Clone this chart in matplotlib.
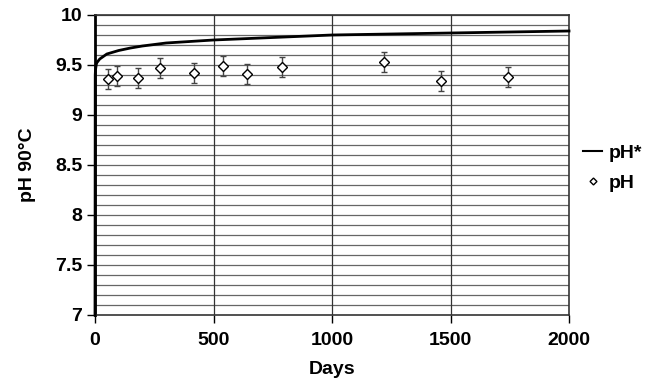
import numpy as np
import matplotlib.pyplot as plt

plt.rcParams['font.family'] = ['Liberation Sans', 'DejaVu Sans']
plt.rcParams['font.weight'] = 'bold'

# model curve pH*
curve_days = [0, 1, 2, 5, 7, 10, 20, 50, 100, 150, 200, 300, 500, 1000, 1500, 2000]
curve_ph = [7.0, 9.40, 9.45, 9.50, 9.52, 9.53, 9.56, 9.61, 9.645, 9.67, 9.69, 9.72, 9.75, 9.80, 9.82, 9.84]

# measured pH
days = [56, 92, 183, 275, 416, 540, 642, 788, 1221, 1458, 1743]
ph = [9.36, 9.39, 9.37, 9.47, 9.42, 9.49, 9.41, 9.48, 9.53, 9.34, 9.38]
ph_err = [0.1] * len(days)

fig = plt.figure(figsize=(6.47, 3.84), dpi=100)
ax = fig.add_axes([95 / 647, 1 - 315 / 384, 474 / 647, 300 / 384])

ax.set_xlim(0, 2000)
ax.set_ylim(7, 10)

for y in np.arange(7.1, 10.0, 0.1):
    ax.axhline(y, color='#666666', lw=0.9, zorder=1)
for x in [500, 1000, 1500]:
    ax.axvline(x, color='#333333', lw=0.9, zorder=1)

line, = ax.plot(curve_days, curve_ph, color='black', lw=2, zorder=3, label='pH*', clip_on=False)
eb = ax.errorbar(days, ph, yerr=ph_err, fmt='D', ms=5, mfc='white', mec='black',
                 mew=1, ecolor='#444444', elinewidth=1, capsize=2.5, zorder=4, label='pH')

ax.set_xticks([0, 500, 1000, 1500, 2000])
ax.set_yticks([7, 7.5, 8, 8.5, 9, 9.5, 10])
ax.set_yticklabels(['7', '7.5', '8', '8.5', '9', '9.5', '10'])
ax.tick_params(axis='both', labelsize=14, length=6, width=1, direction='out')
ax.tick_params(axis='x', pad=6)
ax.tick_params(axis='y', pad=3)

for side in ['top', 'right', 'bottom']:
    ax.spines[side].set_color('#333333')
    ax.spines[side].set_linewidth(1.2)
ax.spines['left'].set_linewidth(2)

ax.set_xlabel('Days', fontsize=14, fontweight='bold', labelpad=9)
ax.set_ylabel('pH 90°C', fontsize=14, fontweight='bold', labelpad=14)

# legend outside on the right
marker_handle, = ax.plot([], [], 'D', ms=3.5, mfc='white', mec='black', mew=1)
leg = fig.legend(handles=[line, marker_handle],
                 labels=['pH*', 'pH'], loc='center left', bbox_to_anchor=(583 / 647, 1 - 168 / 384),
                 frameon=False, fontsize=14, handlelength=1.0, handletextpad=0.3,
                 labelspacing=0.65, borderaxespad=0, borderpad=0)
leg.get_lines()[0].set_linewidth(1.5)

fig.savefig('out.png', dpi=100)
